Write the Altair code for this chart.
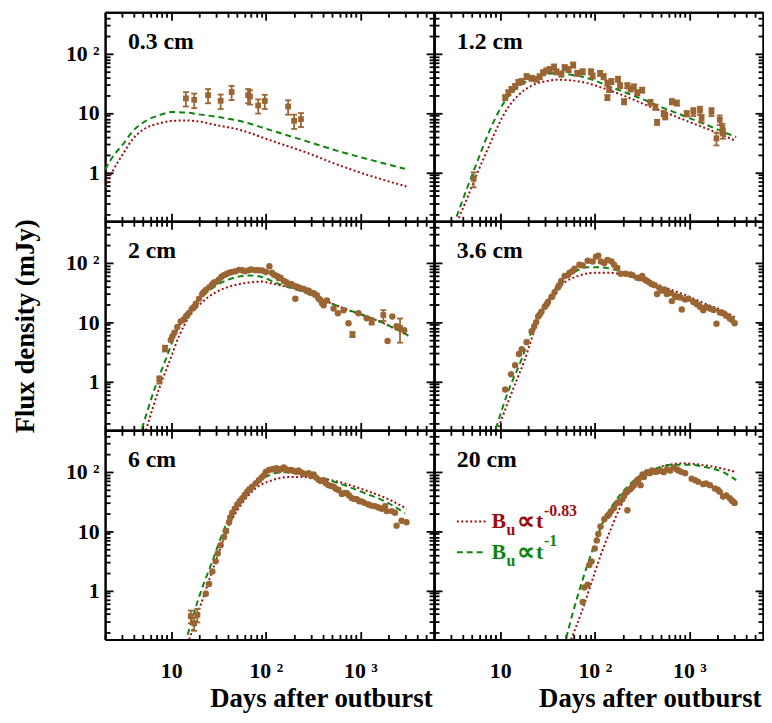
import altair as alt
import pandas as pd

# ------------------------------------------------------------------ values
# 0.3 cm : squares with error bars
sq_t_03 = [14.3, 17.5, 24.5, 33.3, 43.5, 65, 68, 83, 97.5, 172, 199, 235]
sq_f_03 = [17.7, 16.7, 20, 16.1, 22.6, 20, 19, 13.4, 16, 12.9, 7.4, 7.9]
sq_e_03 = [4.8, 4.6, 5.4, 4.4, 6.1, 5.4, 5.1, 3.6, 4.3, 3.5, 2.0, 2.1]
red_t_03 = [2.0, 2.4, 3.1, 3.9, 5.4, 7.5, 10.3, 14.3, 19.7, 29.5, 52, 116, 262, 587, 1315, 3070]
red_f_03 = [0.556, 1.04, 2.06, 3.6, 5.6, 6.7, 7.4, 7.5, 7.2, 6.3, 5.25, 3.4, 2.19, 1.33, 0.86, 0.58]
grn_t_03 = [2.0, 2.4, 3.1, 3.9, 5.4, 7.5, 10.3, 14.3, 19.7, 29.5, 52, 116, 262, 587, 1315, 2950]
grn_f_03 = [1.11, 1.82, 3.0, 4.9, 7.4, 9.2, 10.4, 10.2, 9.5, 8.7, 7.4, 5.06, 3.4, 2.28, 1.61, 1.15]

# 1.2 cm : squares with error bars
sq_t_12 = [5.25, 11.3, 12.2, 13.2, 14.4, 15.6, 16.9, 19, 21.5, 24.2, 26.2, 28.4, 30.8, 33.4,
           37.1, 39.2, 44.3, 48, 52.8, 59.1, 65.1, 74.5, 91.2, 94.8, 114, 124, 136, 142, 136,
           150, 176, 185, 204, 221, 239, 259, 281, 317, 387, 437, 455, 535, 556, 653, 737, 937,
           1101, 1294, 1346, 1712, 1933, 2093, 2235, 2268]
sq_f_12 = [0.78, 18.3, 22.1, 25, 28.3, 32.9, 34.1, 41.2, 38.7, 37.3, 41.2, 47.9, 51.6, 54.3,
           60, 49.7, 45.6, 58.5, 54.3, 64.6, 46.8, 49.7, 49.7, 42.3, 46.8, 41.2, 32.1, 25, 18.3,
           34.1, 37.3, 29, 15.6, 29, 25.6, 27.7, 22.1, 24.4, 15.2, 12.6, 7.0, 9.8, 8.7, 15.6,
           14.8, 9.8, 10.5, 11.1, 8.1, 10.5, 3.75, 7.7, 5.6, 4.5]
sq_e_12 = [0.22, 1.8, 2.2, 2.5, 2.8, 3.3, 3.4, 4.1, 3.9, 3.7, 4.1, 4.8, 5.2, 5.4,
           6.0, 5.0, 4.6, 5.9, 5.4, 6.5, 4.7, 5.0, 5.0, 4.2, 4.7, 4.1, 3.2, 2.5, 1.8,
           3.4, 3.7, 2.9, 1.6, 2.9, 2.6, 2.8, 2.2, 2.4, 1.5, 1.3, 0.7, 1.0, 0.9, 1.6,
           1.5, 1.0, 1.6, 1.7, 1.2, 1.6, 0.9, 1.4, 1.0, 0.8]
red_t_12 = [3.66, 4.66, 5.93, 7.54, 9.6, 12.2, 15.6, 21.5, 29.6, 40.8, 56.3, 77.6, 107, 160,
            239, 357, 535, 800, 1195, 1783, 3006]
red_f_12 = [0.17, 0.43, 1.11, 2.65, 6.34, 12.6, 20, 29, 34.1, 36.4, 35.5, 32.9, 28.3, 22.6,
            17.7, 13.4, 10.5, 8.15, 6.34, 4.94, 3.47]
grn_t_12 = [3.46, 4.3, 5.47, 6.96, 8.87, 11.3, 14.4, 19.8, 27.3, 37.6, 51.9, 71.6, 98.8, 136,
            204, 305, 455, 680, 1017, 1518, 2268, 3126]
grn_f_12 = [0.18, 0.46, 1.25, 3.4, 8.15, 16.2, 25, 35.5, 43.9, 46.8, 45.1, 41.2, 35.5, 29,
            22.6, 17.7, 13.4, 10.5, 8.15, 6.34, 4.82, 3.95]

# 2 cm : circles plus a few squares with error bars
ci_t_2 = [9.9, 10.3, 10.8, 11.6, 12.6, 13.5, 14.3, 15.5, 16.8, 17.5, 18.2, 19.7, 21.3, 22,
          23.2, 25.1, 27, 28.4, 30, 32, 34, 36.1, 38, 40.8, 44, 48, 52, 56.4, 60, 66.2, 70,
          77.9, 84, 91.5, 100, 109, 116, 122, 131, 137, 143, 155, 165, 175, 185, 197, 205,
          210, 222, 236, 251, 268, 284, 300, 320, 335, 347, 360, 376, 392, 408, 442, 520, 577,
          662, 748, 953, 1164, 1937, 2172, 2410, 2900]
ci_f_2 = [5.0, 5.8, 6.6, 8.3, 10.3, 11, 12.4, 14.4, 17, 18, 20.5, 24.7, 29.8, 32,
          34.7, 38.5, 43, 46.4, 48, 52.6, 58, 62, 64, 67.8, 70, 72.1, 76, 74.8, 72, 74.8, 77,
          74.8, 75, 73.9, 70, 87.2, 67.8, 63, 59.7, 55, 56.1, 49.5, 47, 43.6, 44, 40.9, 24.7,
          40, 38.5, 37, 36.1, 34, 33.9, 31, 30.7, 29, 28.1, 25, 23.8, 21, 19.2, 23.2, 17, 14.1,
          15.9, 9.6, 14.1, 11.6, 4.8, 12.4, 8.5, 7.3]
sq_t_2 = [7.5, 8.6, 824, 1315, 1746, 2620]
sq_f_2 = [1.07, 3.6, 6.2, 10.3, 13.2, 8.0]
sq_e_2 = [0.15, 0.4, 0.6, 1.2, 2.7, 3.5]
red_t_2 = [5.4, 7.5, 9.5, 12.1, 15.5, 21.3, 29.5, 44.2, 66.2, 91.5, 116, 149, 222, 333, 499,
           748, 1122, 1677, 2512, 3200]
red_f_2 = [0.15, 0.78, 2.1, 5.8, 12.4, 21.8, 31.8, 41, 46.4, 48.2, 44.8, 40.9, 35, 27, 20.5,
           15.9, 12.6, 9.9, 7.2, 5.9]
grn_t_2 = [4.9, 6.9, 8.8, 11.2, 14.3, 19.7, 29.5, 44.2, 56.4, 66.2, 91.5, 126, 175, 241, 333,
           499, 748, 1122, 1677, 2512, 3200]
grn_f_2 = [0.16, 0.88, 2.4, 6.6, 14.1, 24, 40.9, 55, 59.7, 61.2, 57.5, 46.4, 38.5, 33, 26.4,
           20.5, 16, 12.8, 10, 7.3, 6.0]

# 3.6 cm : circles
ci_t_36 = [11.3, 13, 14.4, 15.8, 16.9, 21.5, 22.9, 25.2, 27.3, 29.6, 32, 34.8, 37.6, 40.8,
           44.2, 48, 54.1, 61, 68.8, 74.5, 84.1, 94.8, 103, 109, 116, 126, 136, 150, 160, 173,
           188, 212, 239, 281, 317, 357, 403, 455, 513, 578, 653, 737, 831, 977, 1101, 1294,
           1402, 1648, 1933, 2268, 2667, 3006,
           19, 24, 26.2, 31, 35.5, 42, 52, 58, 250, 300, 340, 380, 430, 480, 550, 620, 700,
           800, 900, 1200, 1500, 1800, 2100, 2450, 2800]
ci_f_36 = [0.73, 1.32, 1.88, 2.9, 3.5, 7.0, 8.5, 12.4, 15, 18.1, 21.8, 26.4, 31.8, 38.5,
           49.5, 59.7, 67.8, 79.8, 92.7, 90.3, 108, 105, 127, 132, 105, 98.8, 112, 105, 92.7,
           81.8, 65.2, 65.2, 63.5, 56.1, 59.7, 49.5, 43.6, 29.8, 33.9, 29.8, 22.6, 26.4, 16.3,
           24.7, 21.8, 18.1, 15.9, 17, 9.4, 14.1, 11.6, 9.6,
           4.6, 10, 13.5, 20, 27, 42, 62, 72, 62, 55, 52, 46, 42, 38, 35, 31, 28,
           26, 24, 20, 18, 16, 14.5, 12.8, 11]
red_t_36 = [9.6, 13.2, 18.3, 25.2, 34.8, 48, 66.1, 98.8, 148, 221, 305, 455, 680, 1017, 1518,
            2268, 3006]
red_f_36 = [0.17, 0.64, 2.4, 10.9, 26.4, 46.4, 59.7, 67.8, 67.8, 59.7, 52.6, 42.5, 33.9, 26.4,
            20, 15.5, 12.1]
grn_t_36 = [9.0, 12.2, 16.9, 23.2, 32, 44.2, 61, 84.1, 116, 160, 221, 305, 455, 680, 1017,
            1518, 2268, 3006]
grn_f_36 = [0.16, 0.69, 2.4, 9.6, 23.2, 49.5, 70.3, 83.8, 83.8, 76.8, 65.2, 54, 40.9, 31.8,
            23.8, 18.5, 14.1, 10.9]

# 6 cm : circles plus the first detections with error bars
ci_t_6 = [23.2, 25.1, 27.2, 29.5, 33.3, 36.1, 40.8, 44.2, 49.9, 56.4, 63.6, 71.8, 84.4, 95.3,
          108, 121, 137, 155, 175, 197, 222, 251, 284, 320, 361, 408, 460, 520, 587, 636, 718,
          810, 914, 1032, 1214, 1428, 1677, 1820, 1892, 2140, 2320, 2410, 2720, 3070,
          31, 38, 42, 47, 53, 60, 67, 78, 90, 100, 115, 130, 145, 165, 186, 210, 240, 300,
          340, 380, 430, 490, 550, 680, 760, 860, 970, 1100, 1300, 1550]
ci_f_6 = [0.88, 1.29, 2.1, 3.1, 5.8, 8.0, 14.1, 20.5, 28.1, 36.1, 46.4, 56.1, 72.1, 87.2,
          108, 112, 105, 119, 105, 103, 105, 92.7, 95, 90.3, 73.9, 72.1, 59.7, 56.1, 49.5,
          42.5, 43.6, 36.1, 34.7, 31.8, 28.1, 26.4, 23.8, 26.4, 21.8, 21.8, 20.5, 12.4, 15,
          14.1,
          4.2, 10, 17, 24, 32, 41, 51, 64, 80, 100, 110, 115, 112, 110, 108, 100, 97, 85,
          80, 70, 64, 58, 52, 44, 40, 35, 32, 30, 27, 25]
sq_t_6 = [16.1, 17.5, 18.9]
sq_f_6 = [0.37, 0.28, 0.39]
sq_e_6 = [0.09, 0.07, 0.1]
red_t_6 = [15.5, 21.3, 29.5, 40.8, 56.4, 77.9, 116, 175, 262, 392, 587, 879, 1315, 1972, 3070]
red_f_6 = [0.15, 0.69, 3.1, 12.4, 29.8, 52.6, 72.1, 81.8, 81.8, 76.8, 67.8, 56.1, 44.8, 34.7,
           23.8]
grn_t_6 = [14.9, 19.7, 27.2, 37.6, 52, 71.8, 99, 149, 222, 333, 499, 748, 1122, 1972, 2950]
grn_f_6 = [0.18, 0.78, 3.1, 12.4, 29.8, 56.1, 81.8, 98.8, 95, 83.8, 70.3, 56.1, 43.6, 29.8, 20]

# 20 cm : circles
ci_t_20 = [74.5, 77.6, 84.1, 87.5, 92.5, 100, 105, 109, 126, 136, 142, 160, 173, 196, 204,
           221, 230, 249, 259, 281, 305, 330, 357, 403, 455, 535, 628, 680, 767, 902, 1057,
           1242, 1402, 1648, 1858, 2093, 2268, 2667, 2890, 3006,
           115, 150, 185, 215, 240, 270, 290, 320, 380, 430, 500, 580, 740, 820, 1150, 1500,
           2000, 2450, 2800]
ci_f_20 = [0.64, 1.13, 1.25, 2.7, 3.1, 5.1, 7.0, 9.0, 15.9, 18.1, 19.2, 24.7, 29.8, 34.7,
           40.9, 22.6, 49.5, 56.1, 59.7, 72.1, 59.7, 81.8, 98.8, 105, 101, 98.8, 105, 119, 105,
           95, 76.8, 67.8, 62, 59.7, 52.6, 46.4, 38.5, 36.1, 31.8, 29.8,
           12, 22, 32, 45, 52, 65, 75, 90, 95, 100, 104, 110, 110, 100, 72, 64,
           50, 40, 33]
red_t_20 = [56.2, 71.6, 91.2, 116, 148, 188, 259, 387, 578, 865, 1294, 1933, 3126]
red_f_20 = [0.15, 0.41, 1.29, 4.0, 10.9, 26.4, 56.1, 98.8, 130, 139, 132, 119, 98.8]
grn_t_20 = [49.9, 61, 77.6, 98.8, 126, 160, 221, 305, 455, 680, 1017, 1518, 2268, 3126]
grn_f_20 = [0.16, 0.53, 1.88, 5.8, 15.9, 29.8, 56.1, 87.2, 115, 132, 132, 119, 98.8, 72.1]

# axis ticks
X_MAJOR = [10, 100, 1000]
X_MINOR = [2, 3, 4, 5, 6, 7, 8, 9, 20, 30, 40, 50, 60, 70, 80, 90,
           200, 300, 400, 500, 600, 700, 800, 900, 2000, 3000, 4000, 5000]
Y_MAJOR = [1, 10, 100]
Y_MINOR = [0.2, 0.3, 0.4, 0.5, 0.6, 0.7, 0.8, 0.9, 2, 3, 4, 5, 6, 7, 8, 9,
           20, 30, 40, 50, 60, 70, 80, 90, 200, 300, 400]

# ------------------------------------------------------------------ style
FONT = "Liberation Serif"
BROWN = "#9a6532"
RED = "#9b0d0d"
GREEN = "#0d850d"
W, H = 332, 211
XS = alt.Scale(type="log", domain=[2, 6000])
YS = alt.Scale(type="log", domain=[0.15, 500])
NB = "\u00a0"
X_LABELS = (f"datum.value == 10 ? '10' : datum.value == 100 ? "
            f"'{NB}{NB}10{NB}²' : '{NB}{NB}10{NB}³'")
Y_LABELS = (f"datum.value == 100 ? '10{NB}²' : datum.value == 10 ? "
            f"'10{NB}{NB}' : '1{NB}{NB}'")
ONE = pd.DataFrame({"k": [0]})


def inward(n):
    return {"expr": str(-n)}


def x_axis(side, values, size, labels=False, title=False):
    kw = dict(orient=side, values=values, tickSize=inward(size), tickWidth=1.8, tickColor="black",
              domainColor="black", domainWidth=2, grid=False, labels=labels, title=None)
    if labels:
        kw.update(labelExpr=X_LABELS, labelFont=FONT, labelFontSize=22, labelFontWeight="bold",
                  labelColor="black", labelPadding=29, labelOverlap=False, labelFlush=False)
    if title:
        kw.update(title="Days after outburst", titleFont=FONT, titleFontSize=27,
                  titleFontWeight="bold", titleColor="black", titleAnchor="end",
                  titleAlign="right", titleX=W - 2, titleY=68, titleBaseline="alphabetic")
    return alt.Axis(**kw)


def y_axis(side, values, size, labels=False, title=False):
    kw = dict(orient=side, values=values, tickSize=inward(size), tickWidth=1.8, tickColor="black",
              domainColor="black", domainWidth=2, grid=False, labels=labels, title=None)
    if labels:
        kw.update(labelExpr=Y_LABELS, labelFont=FONT, labelFontSize=22, labelFontWeight="bold",
                  labelColor="black", labelPadding=14, labelOverlap=False, labelFlush=False)
    if title:
        kw.update(title="Flux density (mJy)", titleFont=FONT, titleFontSize=27,
                  titleFontWeight="bold", titleColor="black", titleAngle=270,
                  titleBaseline="top", titleX=-93)
    return alt.Axis(**kw)


def text(s, x, y, size, color="black"):
    return alt.Chart(ONE).mark_text(
        text=s, font=FONT, fontSize=size, fontWeight="bold", color=color,
        align="left", baseline="alphabetic"
    ).encode(x=alt.value(x), y=alt.value(y))


def legend_row(y, color, dash, power):
    line = alt.Chart(ONE).mark_rule(color=color, strokeWidth=2, strokeDash=dash).encode(
        x=alt.value(23), x2=alt.value(52), y=alt.value(y))
    return [line, text("B", 58, y + 7, 22, color), text("u", 73, y + 14, 16, color),
            text("\u221d", 84, y + 8, 25, color), text("t", 103, y + 7, 22, color),
            text(power, 111, y - 6, 16, color)]


def panel(name, row, col, red, grn, ci=None, sq=None, legend=False):
    bottom, left = row == 2, col == 0
    red_df = pd.DataFrame({"t": red[0], "f": red[1]})
    grn_df = pd.DataFrame({"t": grn[0], "f": grn[1]})
    ci_df = pd.DataFrame({"t": ci[0] if ci else [], "f": ci[1] if ci else []})
    sq_df = pd.DataFrame({"t": sq[0] if sq else [], "f": sq[1] if sq else [],
                          "e": sq[2] if sq else []})
    sq_df["lo"] = sq_df["f"] - sq_df["e"]
    sq_df["hi"] = sq_df["f"] + sq_df["e"]

    red_line = alt.Chart(red_df).mark_line(
        color=RED, strokeWidth=2, strokeDash=[2, 2.5], interpolate="monotone", clip=True
    ).encode(
        x=alt.X("t:Q", scale=XS, axis=x_axis("bottom", X_MAJOR, 8, bottom, bottom)),
        y=alt.Y("f:Q", scale=YS, axis=y_axis("left", Y_MAJOR, 8, left, left and row == 1)),
    )
    grn_line = alt.Chart(grn_df).mark_line(
        color=GREEN, strokeWidth=2, strokeDash=[6, 4], interpolate="monotone", clip=True
    ).encode(
        x=alt.X("t:Q", scale=XS, axis=x_axis("top", X_MAJOR, 8)),
        y=alt.Y("f:Q", scale=YS, axis=y_axis("right", Y_MAJOR, 8)),
    )
    bars = alt.Chart(sq_df).mark_rule(color=BROWN, strokeWidth=1.8).encode(
        x=alt.X("t:Q", scale=XS, axis=None),
        y=alt.Y("lo:Q", scale=YS, axis=None), y2="hi:Q",
    )
    caps = alt.Chart(sq_df).transform_fold(["lo", "hi"], as_=["end", "v"]).mark_point(
        shape="M-1,0L1,0", size=36, color=BROWN, strokeWidth=1.8, filled=False, opacity=1
    ).encode(
        x=alt.X("t:Q", scale=XS, axis=x_axis("top", X_MINOR, 5)),
        y=alt.Y("v:Q", scale=YS, axis=y_axis("right", Y_MINOR, 5)),
    )
    dots = alt.Chart(ci_df).mark_point(
        shape="circle", filled=True, size=42, color=BROWN, opacity=1
    ).encode(
        x=alt.X("t:Q", scale=XS, axis=x_axis("bottom", X_MINOR, 5)),
        y=alt.Y("f:Q", scale=YS, axis=y_axis("left", Y_MINOR, 5)),
    )
    squares = alt.Chart(sq_df).mark_point(
        shape="square", filled=True, size=34, color=BROWN, opacity=1
    ).encode(
        x=alt.X("t:Q", scale=XS, axis=None),
        y=alt.Y("f:Q", scale=YS, axis=None),
    )
    layers = [red_line, grn_line, bars, caps, dots, squares, text(name, 23, 37, 24)]
    if legend:
        layers += legend_row(92, RED, [2, 2.5], "-0.83")
        layers += legend_row(123, GREEN, [6, 4], "-1")
    return alt.layer(*layers).resolve_axis(x="independent", y="independent").properties(
        width=W, height=H)


panels = [
    panel("0.3 cm", 0, 0, (red_t_03, red_f_03), (grn_t_03, grn_f_03),
          sq=(sq_t_03, sq_f_03, sq_e_03)),
    panel("1.2 cm", 0, 1, (red_t_12, red_f_12), (grn_t_12, grn_f_12),
          sq=(sq_t_12, sq_f_12, sq_e_12)),
    panel("2 cm", 1, 0, (red_t_2, red_f_2), (grn_t_2, grn_f_2),
          ci=(ci_t_2, ci_f_2), sq=(sq_t_2, sq_f_2, sq_e_2)),
    panel("3.6 cm", 1, 1, (red_t_36, red_f_36), (grn_t_36, grn_f_36),
          ci=(ci_t_36, ci_f_36)),
    panel("6 cm", 2, 0, (red_t_6, red_f_6), (grn_t_6, grn_f_6),
          ci=(ci_t_6, ci_f_6), sq=(sq_t_6, sq_f_6, sq_e_6)),
    panel("20 cm", 2, 1, (red_t_20, red_f_20), (grn_t_20, grn_f_20),
          ci=(ci_t_20, ci_f_20), legend=True),
]

chart = alt.concat(*panels, columns=2, spacing=0, bounds="flush").properties(
    padding={"left": 4, "top": 0, "right": 0, "bottom": 0}, background="white"
).configure_view(stroke=None)

chart.save("out.html", embed_options={"renderer": "svg", "actions": False})
